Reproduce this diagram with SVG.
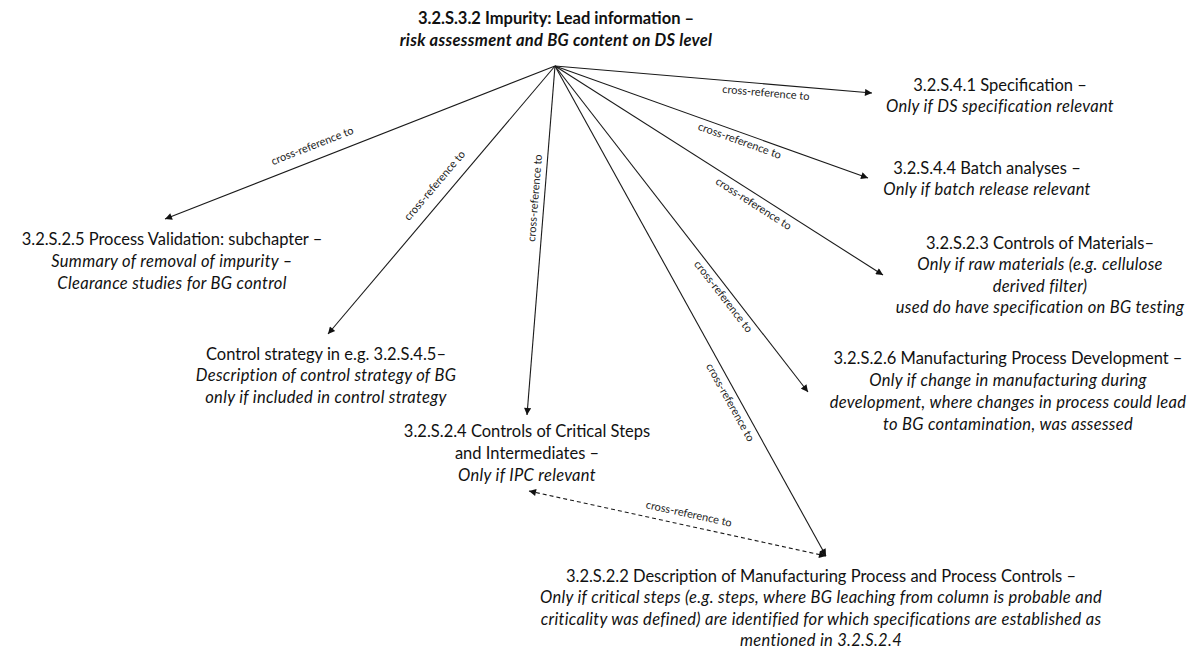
<svg xmlns="http://www.w3.org/2000/svg" width="1203" height="648" viewBox="0 0 1203 648">
<style>
.t{font-family:Lato,"Liberation Sans",sans-serif;font-size:16.5px;fill:#111;text-anchor:middle}
.i{font-style:italic;letter-spacing:0.3px}
.b{font-weight:bold}
.lbl{font-family:Lato,"Liberation Sans",sans-serif;font-size:11px;fill:#222;text-anchor:middle;dominant-baseline:central}
.c{stroke:#1a1a1a;stroke-width:1.1;fill:none;marker-end:url(#ah)}
.d{stroke-dasharray:4 3;marker-start:url(#ahs)}
</style>
<defs>
<marker id="ah" viewBox="0 0 10 10" refX="10" refY="5" markerWidth="9" markerHeight="7" markerUnits="userSpaceOnUse" orient="auto"><path d="M0,0 L10,5 L0,10 z" fill="#111"/></marker>
<marker id="ahs" viewBox="0 0 10 10" refX="10" refY="5" markerWidth="9" markerHeight="7" markerUnits="userSpaceOnUse" orient="auto-start-reverse"><path d="M0,0 L10,5 L0,10 z" fill="#111"/></marker>
</defs>
<rect width="1203" height="648" fill="#fff"/>
<g id="connectors">
<line class="c" x1="555" y1="66" x2="872" y2="93"/>
<line class="c" x1="555" y1="66" x2="868" y2="178"/>
<line class="c" x1="555" y1="66" x2="883" y2="275"/>
<line class="c" x1="555" y1="66" x2="808" y2="392"/>
<line class="c" x1="555" y1="66" x2="826" y2="556"/>
<line class="c" x1="555" y1="66" x2="527" y2="415"/>
<line class="c" x1="555" y1="66" x2="328" y2="334"/>
<line class="c" x1="555" y1="66" x2="165" y2="219"/>
<line class="c d" x1="529" y1="491" x2="826" y2="556"/>
<text class="lbl" transform="translate(766,92) rotate(4.9)">cross-reference to</text>
<text class="lbl" transform="translate(740,140) rotate(19.7)">cross-reference to</text>
<text class="lbl" transform="translate(754,203) rotate(32.5)">cross-reference to</text>
<text class="lbl" transform="translate(724,296) rotate(52.2)">cross-reference to</text>
<text class="lbl" transform="translate(731,402) rotate(61)">cross-reference to</text>
<text class="lbl" transform="translate(534,198) rotate(-85.4)">cross-reference to</text>
<text class="lbl" transform="translate(434,185) rotate(-49.7)">cross-reference to</text>
<text class="lbl" transform="translate(312,145) rotate(-21.4)">cross-reference to</text>
<text class="lbl" transform="translate(689,513) rotate(12.3)">cross-reference to</text>
</g>
<g id="node-title">
<text class="t b" x="556" y="24">3.2.S.3.2 Impurity: Lead information –</text>
<text class="t b i" x="556" y="46">risk assessment and BG content on DS level</text>
</g>
<g id="node-spec">
<text class="t" x="1000" y="91">3.2.S.4.1 Specification –</text>
<text class="t i" x="1000" y="112">Only if DS specification relevant</text>
</g>
<g id="node-batch">
<text class="t" x="987" y="174">3.2.S.4.4 Batch analyses –</text>
<text class="t i" x="987" y="195">Only if batch release relevant</text>
</g>
<g id="node-materials">
<text class="t" x="1040" y="249">3.2.S.2.3 Controls of Materials–</text>
<text class="t i" x="1040" y="270">Only if raw materials (e.g. cellulose</text>
<text class="t i" x="1040" y="292">derived filter)</text>
<text class="t i" x="1040" y="313">used do have specification on BG testing</text>
</g>
<g id="node-mpd">
<text class="t" x="1008" y="364">3.2.S.2.6 Manufacturing Process Development –</text>
<text class="t i" x="1008" y="386">Only if change in manufacturing during</text>
<text class="t i" x="1008" y="408">development, where changes in process could lead</text>
<text class="t i" x="1008" y="430">to BG contamination, was assessed</text>
</g>
<g id="node-validation">
<text class="t" x="172" y="245">3.2.S.2.5 Process Validation: subchapter –</text>
<text class="t i" x="172" y="267">Summary of removal of impurity –</text>
<text class="t i" x="172" y="289">Clearance studies for BG control</text>
</g>
<g id="node-control-strategy">
<text class="t" x="326" y="360">Control strategy in e.g. 3.2.S.4.5–</text>
<text class="t i" x="326" y="381">Description of control strategy of BG</text>
<text class="t i" x="326" y="403">only if included in control strategy</text>
</g>
<g id="node-critical-steps">
<text class="t" x="527" y="437">3.2.S.2.4 Controls of Critical Steps</text>
<text class="t" x="527" y="459">and Intermediates –</text>
<text class="t i" x="527" y="481">Only if IPC relevant</text>
</g>
<g id="node-description">
<text class="t" x="821" y="582">3.2.S.2.2 Description of Manufacturing Process and Process Controls –</text>
<text class="t i" x="821" y="603">Only if critical steps (e.g. steps, where BG leaching from column is probable and</text>
<text class="t i" x="821" y="625">criticality was defined) are identified for which specifications are established as</text>
<text class="t i" x="821" y="646">mentioned in 3.2.S.2.4</text>
</g>
</svg>
